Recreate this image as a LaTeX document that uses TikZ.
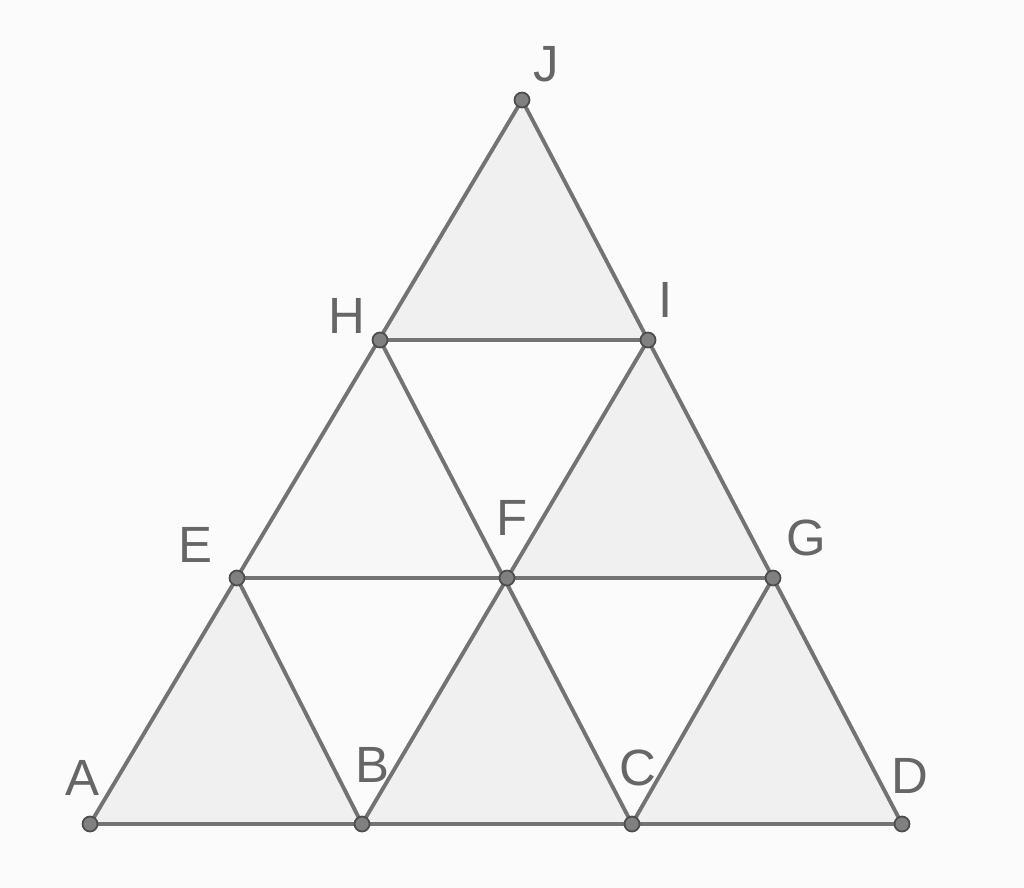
\documentclass[tikz,border=0pt]{standalone}
\usepackage{fontspec}
\setmainfont{Liberation Sans}
\begin{document}
\begin{tikzpicture}[x=0.02cm,y=-0.02cm,
  edge/.style={draw=black!55, line width=2.2pt},
  tri/.style={fill=black!6},
  pt/.style={circle, fill=black!50, draw=black!70, line width=1pt, minimum size=0.3cm, inner sep=0pt},
  lab/.style={text=black!60, font=\fontsize{29}{32}\selectfont, inner sep=0pt}]
\fill[black!1.5] (0,0) rectangle (1024,888);
\useasboundingbox (0,0) rectangle (1024,888);
\coordinate (A) at (90,824);
\coordinate (B) at (362,824);
\coordinate (C) at (632,824);
\coordinate (D) at (902,824);
\coordinate (E) at (237,578);
\coordinate (F) at (507,578);
\coordinate (G) at (773,578);
\coordinate (H) at (380,340);
\coordinate (I) at (648,340);
\coordinate (J) at (522,100);
\fill[tri] (A) -- (B) -- (E) -- cycle;
\fill[tri] (B) -- (C) -- (F) -- cycle;
\fill[tri] (C) -- (D) -- (G) -- cycle;
\fill[tri] (F) -- (G) -- (I) -- cycle;
\fill[tri] (H) -- (I) -- (J) -- cycle;
\fill[black!3] (E) -- (F) -- (H) -- cycle;
\draw[edge] (A) -- (D);
\draw[edge] (E) -- (G);
\draw[edge] (H) -- (I);
\draw[edge] (A) -- (J);
\draw[edge] (D) -- (J);
\draw[edge] (E) -- (B);
\draw[edge] (H) -- (C);
\draw[edge] (I) -- (B);
\draw[edge] (G) -- (C);
\foreach \p in {A,B,C,D,E,F,G,H,I,J} \node[pt] (n\p) at (\p) {};
\node[lab] (lA) at (82,778) {A};
\node[lab] (lB) at (372,765) {B};
\node[lab] (lC) at (638,768) {C};
\node[lab] (lD) at (910,776) {D};
\node[lab] (lE) at (195,545) {E};
\node[lab] (lF) at (512,518) {F};
\node[lab] (lG) at (806,538) {G};
\node[lab] (lH) at (347,316) {H};
\node[lab] (lI) at (666,300) {I};
\node[lab] (lJ) at (546,64) {J};
\end{tikzpicture}
\end{document}
